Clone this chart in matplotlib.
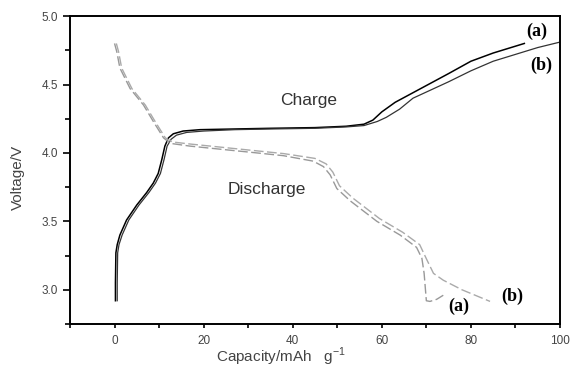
import numpy as np
import matplotlib
matplotlib.use('Agg')
import matplotlib.pyplot as plt

plt.rcParams['font.family'] = ['Liberation Sans', 'DejaVu Sans']

# charge curves (solid)
charge_a_cap = [0.2, 0.2, 0.3, 0.6, 1.2, 2.7, 5.0, 7.2, 8.7, 9.8, 10.6, 11.3, 12.1, 13.2, 15.4, 19.2, 27, 35, 45,
                52, 56, 58, 60, 63, 67, 71, 75, 80, 85, 88, 92]
charge_a_v = [2.92, 3.05, 3.27, 3.33, 3.40, 3.51, 3.62, 3.71, 3.78, 3.85, 3.95, 4.05, 4.11, 4.14, 4.16, 4.17,
              4.175, 4.18, 4.185, 4.195, 4.21, 4.24, 4.30, 4.37, 4.44, 4.51, 4.58, 4.67, 4.73, 4.76, 4.80]
charge_b_cap = [0.6, 0.6, 0.7, 1.0, 1.7, 3.2, 5.5, 7.7, 9.2, 10.3, 11.1, 11.8, 12.7, 13.9, 16.2, 20, 27, 35, 45,
                52, 56, 59, 61, 64, 67, 71, 75, 80, 85, 90, 95, 100]
charge_b_v = [2.92, 3.05, 3.27, 3.33, 3.40, 3.51, 3.62, 3.71, 3.78, 3.85, 3.95, 4.05, 4.10, 4.13, 4.15, 4.16,
              4.17, 4.175, 4.18, 4.19, 4.20, 4.23, 4.26, 4.32, 4.40, 4.46, 4.52, 4.60, 4.67, 4.72, 4.77, 4.81]

# discharge curves (dashed)
dis_a_cap = [0.0, 0.5, 1.2, 3.5, 6.5, 8.7, 11.0, 12.5, 16.9, 22.9, 30.5, 37.9, 44.6, 46.9, 48.4, 49.9, 52.9,
             58.9, 64.1, 67.8, 69.0, 69.5, 70.0, 70.8, 72.3, 73.8]
dis_a_v = [4.80, 4.74, 4.62, 4.47, 4.35, 4.23, 4.11, 4.07, 4.05, 4.03, 4.005, 3.98, 3.94, 3.90, 3.84, 3.74, 3.65,
           3.50, 3.40, 3.31, 3.23, 3.12, 2.92, 2.915, 2.93, 2.96]
dis_b_cap = [0.4, 0.9, 1.6, 3.9, 6.9, 9.1, 11.4, 13.0, 17, 23, 30.5, 38, 45, 47.5, 49, 50.5, 53.5, 59.5, 64.7,
             68.5, 70.1, 71.6, 73.8, 78, 84.3]
dis_b_v = [4.80, 4.74, 4.62, 4.47, 4.35, 4.23, 4.11, 4.08, 4.065, 4.045, 4.02, 3.995, 3.96, 3.92, 3.86, 3.76,
           3.67, 3.52, 3.42, 3.33, 3.22, 3.12, 3.07, 3.00, 2.915]

fig = plt.figure(figsize=(5.71, 3.74), dpi=100)
ax = fig.add_axes([0.1226, 0.1337, 0.8581, 0.8233])

ax.plot(charge_a_cap, charge_a_v, color='black', lw=1.1)
ax.plot(charge_b_cap, charge_b_v, color='#333333', lw=0.9)
ax.plot(dis_a_cap, dis_a_v, color='#999999', lw=1.0, dashes=(7, 2.5))
ax.plot(dis_b_cap, dis_b_v, color='#aaaaaa', lw=1.0, dashes=(7, 2.5))

ax.set_xlim(-10, 100)
ax.set_ylim(2.75, 5.0)
ax.set_xticks([0, 20, 40, 60, 80, 100])
ax.set_xticks([-10, 10, 30, 50, 70, 90], minor=True)
ax.set_yticks([3.0, 3.5, 4.0, 4.5, 5.0])
ax.set_yticks([2.75, 3.25, 3.75, 4.25, 4.75], minor=True)
ax.tick_params(axis='both', which='both', direction='out', width=1.2, colors='black',
               labelcolor='#444444', labelsize=8.5)
ax.tick_params(axis='y', which='major', length=5)
ax.tick_params(axis='y', which='minor', length=3.5)
ax.tick_params(axis='x', which='both', length=3, pad=5)
for s in ax.spines.values():
    s.set_linewidth(1.4)

ax.set_xlabel('Capacity/mAh   g$^{\\mathregular{-1}}$', fontsize=11, color='#444444')
ax.xaxis.set_label_coords(0.43, -0.072)
ax.set_ylabel('Voltage/V', fontsize=11, color='#444444')
ax.yaxis.set_label_coords(-0.092, 0.475)

ax.text(43.5, 4.38, 'Charge', fontsize=12.5, color='#333333', ha='center', va='center')
ax.text(34.2, 3.735, 'Discharge', fontsize=12.5, color='#333333', ha='center', va='center')

serif = ['Liberation Serif', 'DejaVu Serif']
ax.text(94.8, 4.885, '(a)', fontsize=13, fontweight='bold', family=serif, ha='center', va='center')
ax.text(95.9, 4.64, '(b)', fontsize=13, fontweight='bold', family=serif, ha='center', va='center')
ax.text(77.2, 2.88, '(a)', fontsize=13, fontweight='bold', family=serif, ha='center', va='center')
ax.text(89.2, 2.95, '(b)', fontsize=13, fontweight='bold', family=serif, ha='center', va='center')

fig.savefig('out.png', dpi=100)
